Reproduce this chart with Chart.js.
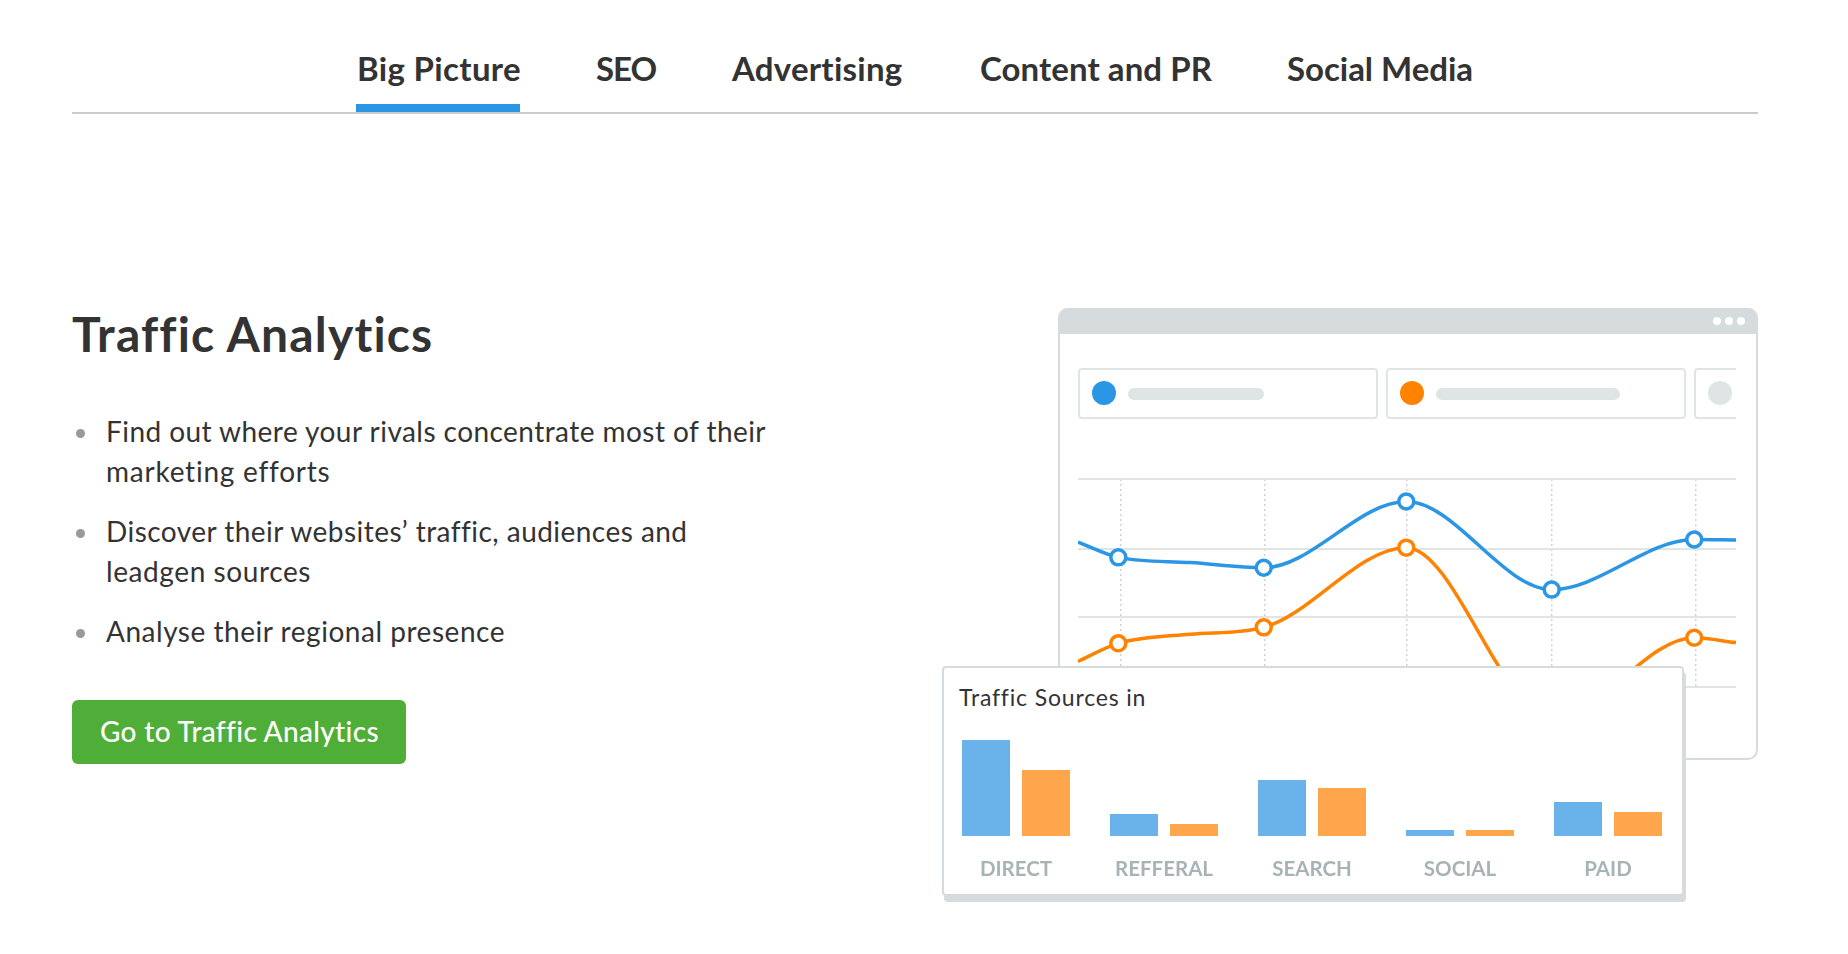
<!DOCTYPE html>
<html>
<head>
  <title>Traffic Analytics</title>
  <script src="https://cdn.jsdelivr.net/npm/chart.js"></script>
  <style>
    body { margin: 0; background: #fff; width: 1848px; height: 954px; overflow: hidden; position: relative; font-family: Lato, sans-serif; color: #333; }
    .abs, .t { position: absolute; }
    .t { white-space: nowrap; line-height: 40px; }
    .tab { font-size: 33px; font-weight: 700; top: 48px; }
    .item { font-size: 28px; }
    .dot { position: absolute; border-radius: 50%; }
    .box { position: absolute; top: 368px; height: 47px; border: 2px solid #dfe4e4; border-radius: 4px; box-sizing: content-box; }
    .pill { position: absolute; top: 388px; height: 12px; border-radius: 6px; background: #dfe4e4; }
  </style>
</head>
<body>
  <div class="t tab" data-w="164" style="left:357px">Big Picture</div>
  <div class="t tab" data-w="60" style="left:596px">SEO</div>
  <div class="t tab" data-w="171" style="left:732px">Advertising</div>
  <div class="t tab" data-w="232" style="left:980px">Content and PR</div>
  <div class="t tab" data-w="186" style="left:1287px">Social Media</div>
  <div class="abs" style="left:356px;top:104px;width:164px;height:8px;background:#2b96e3"></div>
  <div class="abs" style="left:72px;top:112px;width:1686px;height:2px;background:#c9cdd0"></div>

  <div class="t" data-w="360" style="left:72px;top:314px;font-size:48px;font-weight:700;line-height:40px">Traffic Analytics</div>

  <div class="dot" style="left:76px;top:429px;width:9px;height:9px;background:#9a9a9a"></div>
  <div class="t item" data-w="660" style="left:106px;top:411px">Find out where your rivals concentrate most of their</div>
  <div class="t item" data-w="224" style="left:106px;top:451px">marketing efforts</div>
  <div class="dot" style="left:76px;top:529px;width:9px;height:9px;background:#9a9a9a"></div>
  <div class="t item" data-w="580" style="left:106px;top:511px">Discover their websites’ traffic, audiences and</div>
  <div class="t item" data-w="205" style="left:106px;top:551px">leadgen sources</div>
  <div class="dot" style="left:76px;top:629px;width:9px;height:9px;background:#9a9a9a"></div>
  <div class="t item" data-w="399" style="left:106px;top:611px">Analyse their regional presence</div>

  <div class="abs" style="left:72px;top:700px;width:334px;height:64px;background:#4fae37;border-radius:6px"></div>
  <div class="t item" data-w="278" style="left:100px;top:711px;color:#fff;font-weight:500">Go to Traffic Analytics</div>

  <!-- browser window -->
  <div class="abs" style="left:1058px;top:308px;width:696px;height:448px;border:2px solid #d6dbdd;border-radius:10px"></div>
  <div class="abs" style="left:1058px;top:308px;width:700px;height:26px;background:#d6dbdd;border-radius:10px 10px 0 0"></div>
  <div class="dot" style="left:1713px;top:317px;width:8px;height:8px;background:#fff"></div>
  <div class="dot" style="left:1725px;top:317px;width:8px;height:8px;background:#fff"></div>
  <div class="dot" style="left:1737px;top:317px;width:8px;height:8px;background:#fff"></div>

  <div class="box" style="left:1078px;width:296px"></div>
  <div class="dot" style="left:1092px;top:381px;width:24px;height:24px;background:#2b96e3"></div>
  <div class="pill" style="left:1128px;width:136px"></div>
  <div class="box" style="left:1386px;width:296px"></div>
  <div class="dot" style="left:1400px;top:381px;width:24px;height:24px;background:#ff8200"></div>
  <div class="pill" style="left:1436px;width:184px"></div>
  <div class="abs" style="left:1694px;top:368px;width:42px;height:52px;overflow:hidden">
    <div class="box" style="left:0;top:0;width:60px"></div>
    <div class="dot" style="left:14px;top:13px;width:24px;height:24px;background:#dfe4e4"></div>
  </div>

  <canvas id="lines" class="abs" width="658" height="252" style="left:1078px;top:475px"></canvas>

  <!-- bars panel -->
  <div class="abs" style="left:944px;top:672px;width:742px;height:230px;background:#d6dbdd;border-radius:4px"></div>
  <div class="abs" style="left:942px;top:666px;width:738px;height:226px;background:#fff;border:2px solid #d6dbdd;border-radius:4px"></div>
  <div class="t" data-w="186" style="left:959px;top:677px;font-size:23px;color:#333">Traffic Sources in</div>
  <canvas id="bars" class="abs" width="740" height="150" style="left:942px;top:736px"></canvas>

  <script>
    // line chart, x in days, y in visits
    var lineX = [0.72, 1, 1.5, 2.01, 3, 4.01, 5, 5.29];
    var blueLine = [209, 187, 179.5, 172, 267.5, 140.5, 212.7, 212];
    var orangeLine = [37, 63, 76, 86, 201, -45, 71, 64];
    var markedX = [1, 2.01, 3, 4.01, 5]; // only these have a ring on them
    var dayTicks = [1.015, 2.015, 3, 4.01, 5.01];
    var levelTicks = [0, 101, 199, 300];

    // bar chart
    var sources = ['DIRECT', 'REFFERAL', 'SEARCH', 'SOCIAL', 'PAID'];
    var blueBars = [96, 22, 56, 6, 34];
    var orangeBars = [66, 12, 48, 6, 24];

    var BLUE = '#2b96e3', ORANGE = '#ff8200';

    // squeeze the text to the width it has in the picture
    document.querySelectorAll('[data-w]').forEach(function (el) {
      var n = el.textContent.length;
      var w = el.getBoundingClientRect().width;
      el.style.letterSpacing = ((el.dataset.w - w) / n) + 'px';
    });

    function lineSet(values, color) {
      return {
        data: values.map(function (v, i) { return { x: lineX[i], y: v }; }),
        borderColor: color,
        borderWidth: 3.5,
        backgroundColor: '#fff',
        cubicInterpolationMode: 'monotone',
        clip: { left: 0, right: 0, top: 10, bottom: 40 },
        pointBackgroundColor: '#fff',
        pointBorderColor: color,
        pointBorderWidth: 3.5,
        pointRadius: function (c) {
          return markedX.indexOf(lineX[c.dataIndex]) >= 0 ? 7.5 : 0;
        }
      };
    }

    new Chart(document.getElementById('lines').getContext('2d'), {
      type: 'line',
      data: { datasets: [lineSet(blueLine, BLUE), lineSet(orangeLine, ORANGE)] },
      options: {
        responsive: false,
        animation: false,
        layout: { padding: { top: 4, bottom: 40 } },
        plugins: { legend: { display: false }, tooltip: { enabled: false } },
        scales: {
          x: {
            type: 'linear',
            min: lineX[0],
            max: lineX[lineX.length - 1],
            afterBuildTicks: function (axis) {
              axis.ticks = dayTicks.map(function (v) { return { value: v }; });
            },
            border: { display: false, dash: [2, 3] },
            grid: { color: '#cfd4d4', lineWidth: 1.5, drawTicks: false },
            ticks: { display: false }
          },
          y: {
            min: 0,
            max: 300,
            afterBuildTicks: function (axis) {
              axis.ticks = levelTicks.map(function (v) { return { value: v }; });
            },
            border: { display: false },
            grid: { color: '#dfe4e4', lineWidth: 2, drawTicks: false },
            ticks: { display: false }
          }
        }
      }
    });

    new Chart(document.getElementById('bars').getContext('2d'), {
      type: 'bar',
      data: {
        labels: sources,
        datasets: [
          { data: blueBars, backgroundColor: '#6ab2ea' },
          { data: orangeBars, backgroundColor: '#ffa54c' }
        ]
      },
      options: {
        responsive: false,
        animation: false,
        datasets: { bar: { categoryPercentage: 120 / 148, barPercentage: 0.8 } },
        plugins: { legend: { display: false }, tooltip: { enabled: false } },
        scales: {
          x: {
            afterFit: function (axis) { axis.height = 50; },
            border: { display: false },
            grid: { display: false },
            ticks: {
              color: '#a8b3b6',
              padding: 13,
              maxRotation: 0,
              font: { family: 'Lato', size: 20.5, weight: 'bold' }
            }
          },
          y: { display: false, min: 0, max: 100 }
        }
      }
    });
  </script>
</body>
</html>
